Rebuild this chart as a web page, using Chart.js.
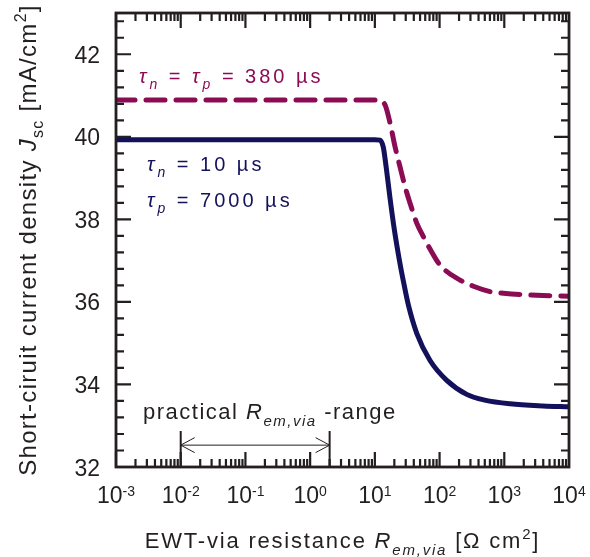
<!DOCTYPE html>
<html>
<head>
<meta charset="utf-8">
<script src="https://cdn.jsdelivr.net/npm/chart.js@4/dist/chart.umd.min.js"></script>
<style>
  html, body { margin: 0; padding: 0; background: #fff; }
  #c { display: block; }
</style>
</head>
<body>
<canvas id="c" width="590" height="557"></canvas>
<script>
// tau_n = 10 us, tau_p = 7000 us (solid)
const navyX = [0.001, 0.01, 0.1, 1, 10, 12.0, 13.5, 15.0, 17.2, 20.0, 24.0, 28.0, 33.0, 44.4, 71.3, 129, 263, 500, 1230, 3980, 10000];
const navyJsc = [39.93, 39.93, 39.93, 39.93, 39.93, 39.92, 39.75, 39.25, 38.50, 37.75, 37.00, 36.45, 35.92, 35.24, 34.58, 34.10, 33.76, 33.62, 33.53, 33.48, 33.46];

// tau_n = tau_p = 380 us (dashed)
const purpleX = [0.001, 0.01, 0.1, 1, 10, 11.2, 14.4, 17.2, 20.5, 24.5, 29.3, 35.0, 44.4, 56.2, 71.3, 102, 207, 333, 641, 969, 3180, 10000];
const purpleJsc = [40.89, 40.89, 40.89, 40.89, 40.89, 40.89, 40.77, 40.33, 39.76, 39.27, 38.79, 38.39, 37.91, 37.58, 37.28, 36.89, 36.53, 36.38, 36.24, 36.21, 36.16, 36.14];

const xExponents = [-3, -2, -1, 0, 1, 2, 3, 4];
const yTickLabels = [32, 34, 36, 38, 40, 42];
const yMinorStep = 0.4;

// practical R_em,via range arrow
const rangeFrom = 0.01;
const rangeTo = 2;
const rangeArrowJ = 32.53;
const rangeBarTopJ = 32.87;

const ink = '#231f20';
const navy = '#14115b';
const purple = '#8b0c55';
const FONT = '"Liberation Sans", Arial, sans-serif';

// draws text made of parts: [text, style]; style: '', 'i', 'sub', 'isub', 'sup'
function richText(ctx, parts, x, y, align, size, spacing, color) {
  ctx.fillStyle = color;
  ctx.letterSpacing = spacing + 'px';
  const fontOf = s => {
    const small = s === 'sub' || s === 'isub' || s === 'sup';
    const it = s === 'i' || s === 'isub';
    return (it ? 'italic ' : '') + (small ? Math.round(size * 0.68) : size) + 'px ' + FONT;
  };
  let w = 0;
  const widths = parts.map(([t, s]) => {
    ctx.font = fontOf(s);
    const m = ctx.measureText(t).width;
    w += m;
    return m;
  });
  let cx = align === 'center' ? x - w / 2 : align === 'right' ? x - w : x;
  ctx.textAlign = 'left';
  ctx.textBaseline = 'alphabetic';
  parts.forEach(([t, s], i) => {
    ctx.font = fontOf(s);
    let dy = 0;
    if (s === 'sub' || s === 'isub') dy = size * 0.3;
    if (s === 'sup') dy = -size * 0.42;
    ctx.fillText(t, cx, y + dy);
    cx += widths[i];
  });
  ctx.letterSpacing = '0px';
}

const decor = {
  id: 'decor',
  afterDraw(chart) {
    const { ctx, chartArea: a, scales: { x, y } } = chart;
    ctx.save();
    ctx.strokeStyle = ink;
    ctx.lineCap = 'butt';

    // ticks, inside, on all four sides
    ctx.lineWidth = 2.2;
    ctx.beginPath();
    for (let e = -3; e < 4; e++) {
      for (let m = 1; m <= 9; m++) {
        const px = x.getPixelForValue(m * Math.pow(10, e));
        const len = m === 1 ? 15 : 8;
        ctx.moveTo(px, a.bottom); ctx.lineTo(px, a.bottom - len);
        ctx.moveTo(px, a.top); ctx.lineTo(px, a.top + len);
      }
    }
    for (let k = 0; k * yMinorStep <= 11.0001; k++) {
      const v = 32 + k * yMinorStep;
      const py = y.getPixelForValue(v);
      const len = k % 5 === 0 ? 15 : 8;
      ctx.moveTo(a.left, py); ctx.lineTo(a.left + len, py);
      ctx.moveTo(a.right, py); ctx.lineTo(a.right - len, py);
    }
    ctx.stroke();

    // frame
    ctx.lineWidth = 2.8;
    ctx.strokeRect(a.left, a.top, a.right - a.left, a.bottom - a.top);

    // tick labels
    xExponents.forEach(e => {
      const px = x.getPixelForValue(Math.pow(10, e));
      ctx.font = '23px ' + FONT;
      const w1 = ctx.measureText('10').width;
      ctx.font = '14px ' + FONT;
      const w2 = ctx.measureText(String(e)).width;
      const sx = px - (w1 + w2) / 2;
      ctx.fillStyle = ink;
      ctx.textAlign = 'left';
      ctx.textBaseline = 'alphabetic';
      ctx.font = '23px ' + FONT;
      ctx.fillText('10', sx, a.bottom + 36);
      ctx.font = '14px ' + FONT;
      ctx.fillText(String(e), sx + w1, a.bottom + 29);
    });
    ctx.font = '23px ' + FONT;
    ctx.textAlign = 'right';
    yTickLabels.forEach(v => {
      ctx.fillText(String(v), a.left - 16, y.getPixelForValue(v) + 8.5);
    });

    // axis titles
    richText(ctx, [['EWT-via resistance ', ''], ['R', 'i'], ['em,via', 'isub'], [' [\u03A9 cm', ''], ['2', 'sup'], [']', '']],
      (a.left + a.right) / 2, 548, 'center', 22, 1.8, ink);
    ctx.save();
    ctx.translate(36, (a.top + a.bottom) / 2);
    ctx.rotate(-Math.PI / 2);
    richText(ctx, [['Short-ciruit current density ', ''], ['J', 'i'], ['sc', 'sub'], [' [mA/cm', ''], ['2', 'sup'], [']', '']],
      0, 0, 'center', 24, 1.3, ink);
    ctx.restore();

    // curve labels
    richText(ctx, [['\u03C4', 'i'], ['n', 'isub'], [' = ', ''], ['\u03C4', 'i'], ['p', 'isub'], [' = 380 \u00B5s', '']],
      139, 83, 'left', 20, 3, purple);
    richText(ctx, [['\u03C4', 'i'], ['n', 'isub'], [' = 10 \u00B5s', '']],
      147, 171, 'left', 20, 3, navy);
    richText(ctx, [['\u03C4', 'i'], ['p', 'isub'], [' = 7000 \u00B5s', '']],
      147, 207, 'left', 20, 3, navy);

    // practical range arrow
    const x1 = x.getPixelForValue(rangeFrom);
    const x2 = x.getPixelForValue(rangeTo);
    const ay = y.getPixelForValue(rangeArrowJ);
    const by = y.getPixelForValue(rangeBarTopJ);
    ctx.lineWidth = 1;
    ctx.strokeStyle = ink;
    ctx.beginPath();
    ctx.moveTo(x1, ay); ctx.lineTo(x2, ay);
    ctx.moveTo(x1 + 14, ay - 7.5); ctx.lineTo(x1, ay); ctx.lineTo(x1 + 14, ay + 7.5);
    ctx.moveTo(x2 - 14, ay - 7.5); ctx.lineTo(x2, ay); ctx.lineTo(x2 - 14, ay + 7.5);
    ctx.stroke();
    ctx.lineWidth = 2;
    ctx.beginPath();
    ctx.moveTo(x1, by); ctx.lineTo(x1, a.bottom);
    ctx.moveTo(x2, by); ctx.lineTo(x2, a.bottom);
    ctx.stroke();
    richText(ctx, [['practical ', ''], ['R', 'i'], ['em,via', 'isub'], [' -range', '']],
      143, 419, 'left', 22, 1.5, ink);

    ctx.restore();
  }
};

new Chart(document.getElementById('c').getContext('2d'), {
  type: 'line',
  data: {
    datasets: [{
      label: 'tau_n = tau_p = 380 us',
      data: purpleX.map((v, i) => ({ x: v, y: purpleJsc[i] })),
      borderColor: purple,
      borderWidth: 5,
      borderDash: [19, 11],
      borderCapStyle: 'round',
      pointRadius: 0,
      cubicInterpolationMode: 'monotone'
    }, {
      label: 'tau_n = 10 us, tau_p = 7000 us',
      data: navyX.map((v, i) => ({ x: v, y: navyJsc[i] })),
      borderColor: navy,
      borderWidth: 5,
      borderCapStyle: 'round',
      pointRadius: 0,
      cubicInterpolationMode: 'monotone'
    }]
  },
  options: {
    responsive: false,
    animation: false,
    layout: { padding: { left: 0, top: 13, right: 21, bottom: 0 } },
    plugins: { legend: { display: false }, tooltip: { enabled: false } },
    scales: {
      x: {
        type: 'logarithmic',
        min: 0.001,
        max: 10000,
        ticks: { display: false },
        grid: { display: false },
        border: { display: false },
        afterFit: s => { s.height = 90; }
      },
      y: {
        type: 'linear',
        min: 32,
        max: 43,
        ticks: { display: false },
        grid: { display: false },
        border: { display: false },
        afterFit: s => { s.width = 116; }
      }
    }
  },
  plugins: [decor]
});
</script>
</body>
</html>
